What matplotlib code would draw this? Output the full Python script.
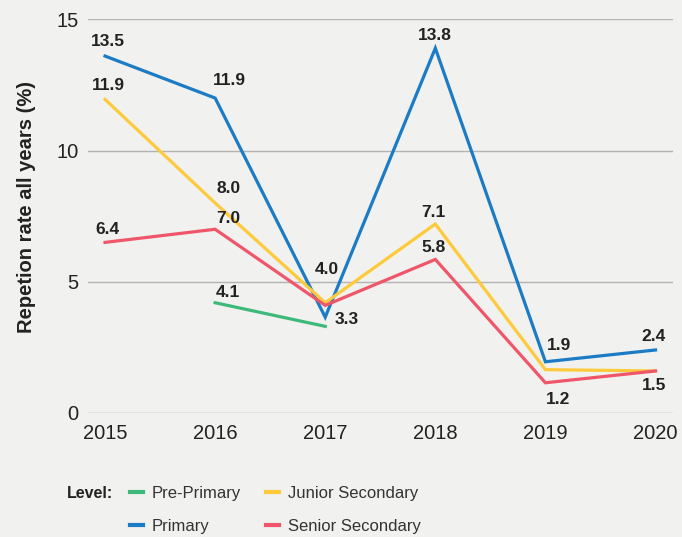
import matplotlib
matplotlib.use("Agg")
import matplotlib.pyplot as plt
from matplotlib.lines import Line2D

plt.rcParams['font.family'] = ['Liberation Sans', 'DejaVu Sans']

years = [2015, 2016, 2017, 2018, 2019, 2020]

pre_years = [2016, 2017]
pre_primary = [4.2, 3.3]
primary = [13.6, 12.0, 3.65, 13.9, 1.95, 2.4]
junior = [11.95, 8.0, 4.2, 7.2, 1.65, 1.6]
senior = [6.5, 7.0, 4.1, 5.85, 1.15, 1.6]

pre_labels = ["4.1", "3.3"]
primary_labels = ["13.5", "11.9", None, "13.8", "1.9", "2.4"]
junior_labels = ["11.9", "8.0", "4.0", "7.1", None, None]
senior_labels = ["6.4", "7.0", None, "5.8", "1.2", "1.5"]

ytick_vals = [0, 5, 10, 15]

C_PRE = "#3dba7a"
C_PRI = "#1b7bc4"
C_JUN = "#fdca3c"
C_SEN = "#f0566a"
BG = "#f1f1ef"
TXT = "#222222"

fig = plt.figure(figsize=(6.82, 5.37), dpi=100, facecolor=BG)
ax = fig.add_axes([0.129, 0.231, 0.858, 0.733], facecolor=BG)

lw = 2.3
ax.plot(pre_years, pre_primary, color=C_PRE, lw=lw, solid_joinstyle='miter', zorder=3)
ax.plot(years, junior, color=C_JUN, lw=lw, solid_joinstyle='miter', zorder=3)
ax.plot(years, senior, color=C_SEN, lw=lw, solid_joinstyle='miter', zorder=4)
ax.plot(years, primary, color=C_PRI, lw=lw, solid_joinstyle='miter', zorder=2)

ax.set_xlim(2014.845, 2020.16)
ax.set_ylim(0, 15)
ax.set_yticks(ytick_vals)
ax.set_xticks(years)
ax.grid(axis='y', color='#b3b3b3', lw=1.0, zorder=0)
ax.set_axisbelow(True)
for s in ax.spines.values():
    s.set_visible(False)
ax.tick_params(length=0, labelsize=14.5, labelcolor=TXT)
ax.tick_params(axis='y', pad=7)
ax.tick_params(axis='x', pad=8)
ax.set_ylabel("Repetion rate all years (%)", fontsize=14.5, fontweight='bold', color=TXT)
ax.yaxis.set_label_coords(-0.089, 0.524)

# label offsets in pixels (dx, dy, ha, va)
def put(xs, ys, labels, offs):
    for x, y, lab, o in zip(xs, ys, labels, offs):
        if lab is None:
            continue
        dx, dy, ha, va = o
        ax.annotate(lab, (x, y), xytext=(dx, dy), textcoords='offset pixels',
                    ha=ha, va=va, fontsize=12.5, fontweight='bold', color=TXT,
                    annotation_clip=False, zorder=6)

put(years, primary, primary_labels,
    [(3, 7, 'center', 'bottom'), (14, 10, 'center', 'bottom'), None,
     (-1, 5, 'center', 'bottom'), (14, 9, 'center', 'bottom'), (-2, 6, 'center', 'bottom')])
put(years, junior, junior_labels,
    [(3, 6, 'center', 'bottom'), (13, 7, 'center', 'bottom'), (2, 26, 'center', 'bottom'),
     (-2, 4, 'center', 'bottom'), None, None])
put(years, senior, senior_labels,
    [(2, 5, 'center', 'bottom'), (13, 3, 'center', 'bottom'), None,
     (-2, 4, 'center', 'bottom'), (13, -9, 'center', 'top'), (-1, -7, 'center', 'top')])
put(pre_years, pre_primary, pre_labels,
    [(13, 3, 'center', 'bottom'), (9, 7, 'left', 'center')])

handles = [Line2D([], [], color=C_PRE, lw=3),
           Line2D([], [], color=C_PRI, lw=3),
           Line2D([], [], color=C_JUN, lw=3),
           Line2D([], [], color=C_SEN, lw=3)]
labels = ["Pre-Primary", "Primary", "Junior Secondary", "Senior Secondary"]
leg = fig.legend(handles, labels, ncol=2, loc='upper left',
                 bbox_to_anchor=(130 / 682, 1 - 486 / 537),
                 frameon=False, fontsize=12,
                 handlelength=0.78, handletextpad=0.54, columnspacing=1.5,
                 labelspacing=1.05, borderpad=0, borderaxespad=0)
for t in leg.get_texts():
    t.set_color("#333333")
fig.text(67 / 682, 1 - 494 / 537, "Level:", fontsize=11.5, fontweight='bold',
         color=TXT, ha='left', va='center')

fig.savefig("out.png", dpi=100, facecolor=BG)
